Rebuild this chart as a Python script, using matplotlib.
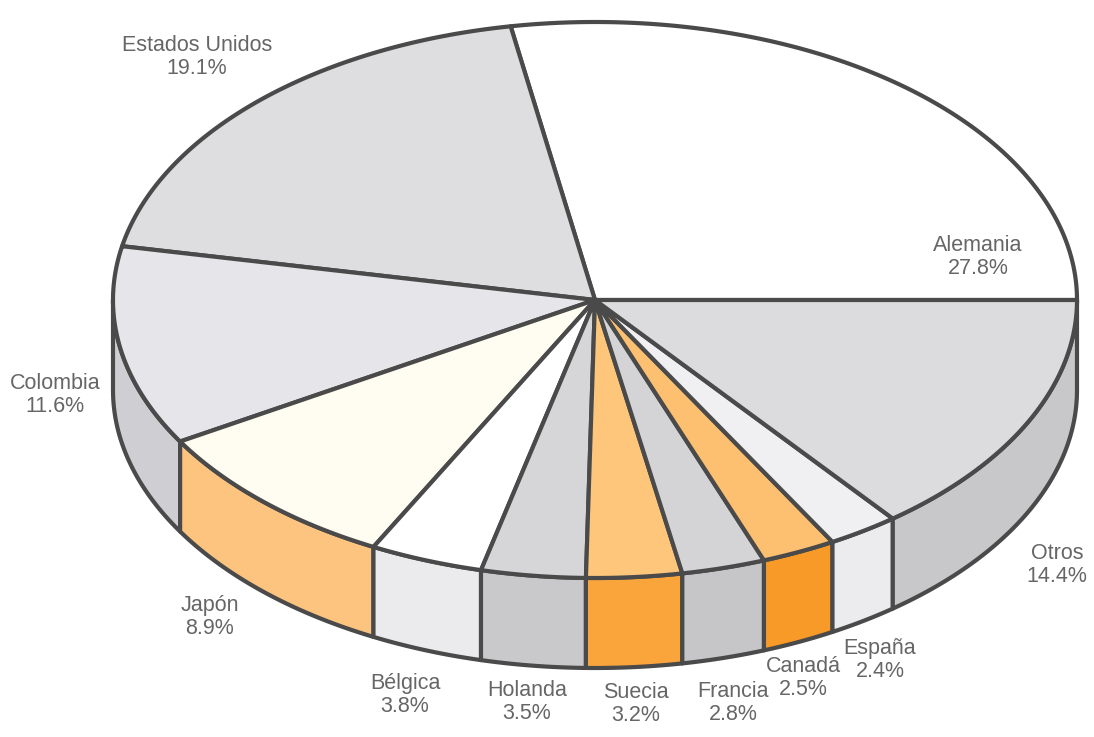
# 3D-style pie: exports by destination country
import numpy as np
import matplotlib.pyplot as plt
from matplotlib.patches import Polygon

# data
paises = ['Alemania', 'Estados Unidos', 'Colombia', 'Japón', 'Bélgica', 'Holanda',
          'Suecia', 'Francia', 'Canadá', 'España', 'Otros']
porcentajes = [27.8, 19.1, 11.6, 8.9, 3.8, 3.5, 3.2, 2.8, 2.5, 2.4, 14.4]

# styles
color_top = ['#ffffff', '#dedee1', '#e6e6ea', '#fffdf2', '#ffffff', '#d6d6d9',
             '#fdc67a', '#d4d4d7', '#fcc070', '#f0f0f2', '#dcdcdf']
color_side = ['#d0d0d4', '#d0d0d4', '#cfcfd3', '#fcc47e', '#ebebed', '#c9c9cc',
              '#f9a53c', '#c6c6c9', '#f89a28', '#ececee', '#c8c8cb']
label_pos = [(978, 257), (197, 57), (55, 395), (210, 617), (405, 695), (527, 702),
             (636, 704), (733, 703), (803, 678), (880, 660), (1057, 565)]

cx, cy = 595, 300      # ellipse centre (pixels)
a, b = 482, 278        # semi axes
depth = 90
edge = '#4a4a4a'

fig = plt.figure(figsize=(10.94, 7.37), dpi=100)
ax = fig.add_axes([0, 0, 1, 1])
ax.set_xlim(0, 1094)
ax.set_ylim(737, 0)
ax.axis('off')


def arc(t1, t2, dy=0):
    t = np.radians(np.linspace(t1, t2, max(int(abs(t2 - t1)) * 2, 2)))
    return np.column_stack([cx + a * np.cos(t), cy - b * np.sin(t) + dy])


angles = np.concatenate([[0], np.cumsum(porcentajes) / sum(porcentajes) * 360])

# side walls (front half only: 180..360 deg)
for i in range(len(paises)):
    t1, t2 = max(angles[i], 180), min(angles[i + 1], 360)
    if t2 <= t1:
        continue
    pts = np.vstack([arc(t1, t2), arc(t2, t1, depth)])
    ax.add_patch(Polygon(pts, closed=True, facecolor=color_side[i],
                         edgecolor=edge, linewidth=3, joinstyle='round'))

# top wedges
for i in range(len(paises)):
    pts = np.vstack([[cx, cy], arc(angles[i], angles[i + 1])])
    ax.add_patch(Polygon(pts, closed=True, facecolor=color_top[i],
                         edgecolor=edge, linewidth=3, joinstyle='round'))

# labels
for name, pct, (x, y) in zip(paises, porcentajes, label_pos):
    ax.text(x, y, f'{name}\n{pct:.1f}%', ha='center', va='center', fontsize=15.5,
            color='#666666', linespacing=1.1, family='Liberation Sans')

fig.savefig('out.png', dpi=100)
